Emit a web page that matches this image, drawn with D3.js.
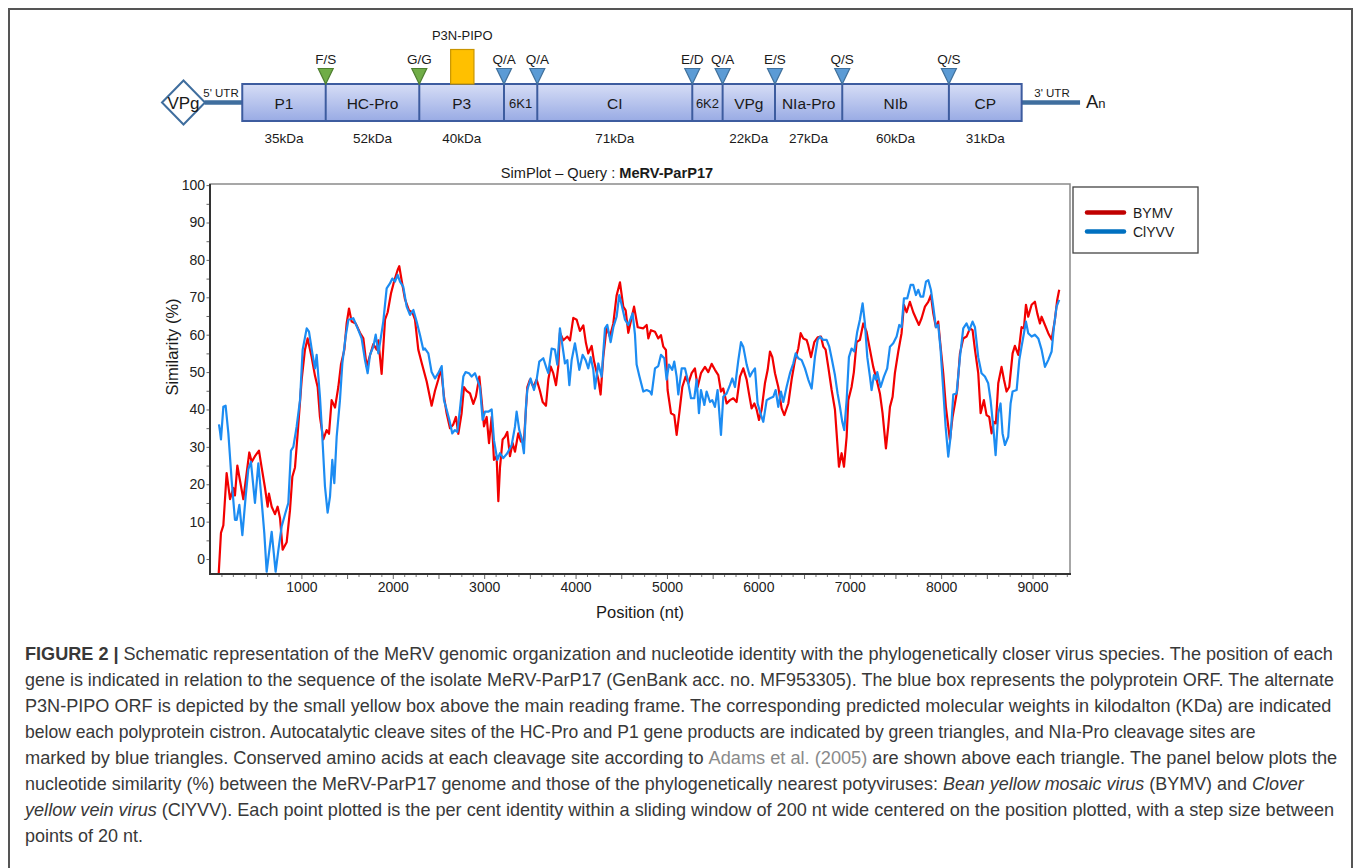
<!DOCTYPE html>
<meta charset="utf-8">
<html>
<head>
<script src="https://d3js.org/d3.v7.min.js"></script>
<style>
  body { margin: 0; background: #fff; }
  svg text { font-family: "Liberation Sans", Arial, sans-serif; }
</style>
</head>
<body>
<div id="chart"></div>
<script>

// ---- genome map ----
const genes    = ["P1", "HC-Pro", "P3", "6K1", "CI", "6K2", "VPg", "NIa-Pro", "NIb", "CP"];
const geneStart = [353, 1266, 2290, 3217, 3581, 5277, 5609, 6182, 6918, 8085];
const polyEnd   = 8881;
const geneKDa  = ["35kDa", "52kDa", "40kDa", "", "71kDa", "", "22kDa", "27kDa", "60kDa", "31kDa"];
const siteLabels = ["F/S", "G/G", "Q/A", "Q/A", "E/D", "Q/A", "E/S", "Q/S", "Q/S"];
const siteKind   = ["auto", "auto", "nia", "nia", "nia", "nia", "nia", "nia", "nia"];
const pipo = [2633, 2888];
const utr3End = 9520;

// ---- simplot series: [position (nt), similarity (%)] ----
const bymv = [
  [95,-4],[120,7],[146,9],[182,23],[219,16],[255,19],[273,17],[299,25],[328,21],[365,16],
  [401,23],[430,28.5],[456,26],[492,27.5],[536,29],[565,24.5],[602,19],[631,14],[645,17.5],[675,14],
  [711,12],[740,14],[766,11],[795,2.5],[839,4.5],[875,13],[901,22],[930,24.5],[959,33.5],[1003,48],
  [1039,56],[1068,59],[1112,54],[1149,49],[1178,46],[1203,38],[1240,32],[1276,34.5],[1302,33.5],[1331,42.5],
  [1368,40.5],[1404,46],[1433,52],[1470,56],[1495,63],[1521,67],[1550,63.5],[1594,63],[1641,60.5],[1678,59],
  [1714,51.5],[1751,54.5],[1787,57.5],[1824,56],[1842,58.5],[1878,49.5],[1915,64],[1944,66],[1980,71],[2017,74.5],
  [2053,77.3],[2071,78.3],[2097,74.5],[2133,69.5],[2177,66.5],[2214,66],[2243,64],[2279,56],[2316,52.5],[2371,47.5],
  [2425,41],[2462,45],[2498,48],[2527,51],[2560,43.5],[2589,39],[2626,35],[2662,36],[2691,38],[2717,33.5],
  [2753,39],[2779,46],[2808,45],[2845,44.3],[2881,41.5],[2910,43.5],[2947,48.8],[2972,42.5],[2998,35.5],[3027,38],
  [3053,31],[3082,38],[3107,26.5],[3136,27.5],[3155,15.5],[3173,24.5],[3202,32],[3228,32.7],[3253,34],[3282,27.5],
  [3311,31],[3337,28.7],[3373,33.6],[3403,31.4],[3435,31.4],[3472,46],[3501,48],[3538,46],[3574,48],[3610,45],
  [3640,42],[3676,41],[3702,48],[3727,51.5],[3756,49.7],[3786,46.5],[3811,51.5],[3829,60.5],[3866,58.5],[3910,59.5],
  [3939,58.5],[3975,64.5],[4012,64],[4048,61],[4085,62.5],[4114,57.7],[4139,55],[4176,57],[4201,53],[4249,48],
  [4274,44],[4303,54],[4340,62],[4376,59.5],[4413,63],[4449,70.5],[4486,74],[4522,67.5],[4548,66.5],[4577,60.5],
  [4640,67.5],[4680,62],[4741,61.7],[4778,62.6],[4796,59],[4825,61.2],[4869,60.8],[4905,59],[4934,59.9],[4960,56.8],
  [4989,55.9],[5007,45.2],[5044,39],[5080,38.5],[5106,33.2],[5135,39],[5168,46],[5204,48.8],[5234,47],[5270,49.7],
  [5306,51],[5336,46],[5372,49.7],[5416,51.4],[5452,50],[5489,52.2],[5525,50.6],[5562,49.2],[5591,44.8],[5616,45.6],
  [5653,41.6],[5689,42.5],[5726,43],[5762,42],[5799,48.8],[5835,51],[5872,48],[5897,44.3],[5926,40.3],[5956,41.6],
  [5981,40],[6007,37.2],[6036,40],[6072,47],[6102,50.6],[6127,55.5],[6153,54],[6182,49.7],[6218,46],[6255,40.3],
  [6284,38.5],[6328,41.6],[6364,48],[6401,53.2],[6437,56.3],[6463,60.4],[6492,59],[6528,58.6],[6546,57.2],[6576,54],
  [6612,58],[6649,59.3],[6685,59.5],[6711,56.8],[6736,56],[6765,51.4],[6802,45.2],[6838,40],[6864,31],[6882,24.7],
  [6911,28.3],[6937,24.7],[6966,32.7],[6984,42.5],[7020,46],[7045,50],[7075,58],[7111,58.6],[7148,63],[7184,60.8],
  [7221,56],[7257,51.4],[7294,48],[7330,44.3],[7359,39],[7396,29.6],[7421,35.4],[7440,40.7],[7469,43.4],[7494,49.7],
  [7531,55.5],[7567,60.4],[7593,68],[7622,66],[7658,68.8],[7695,66],[7731,64],[7757,62.6],[7786,64.4],[7823,67.5],
  [7859,68.8],[7888,70.6],[7914,65.7],[7943,62],[7968,63.5],[7994,56.8],[8023,49.7],[8052,40.7],[8078,35.4],[8096,31.8],
  [8125,38],[8151,41.6],[8176,45.2],[8206,55],[8242,59],[8278,59.5],[8315,61.7],[8344,61.2],[8370,56],[8406,49.7],
  [8432,39],[8468,42.5],[8497,38.5],[8526,38],[8552,33.6],[8577,36.7],[8599,36.3],[8625,47],[8661,51.4],[8687,48],
  [8716,44.8],[8745,46],[8782,55],[8807,57],[8844,54.6],[8880,62],[8906,61.7],[8928,68],[8953,64.8],[8990,68],
  [9026,68.8],[9052,65.7],[9081,63],[9099,64.8],[9136,62.6],[9172,60.4],[9209,58.7],[9245,64],[9270,69.3],[9292,72]
];

const clyvv = [
  [98,36],[110,34],[120,32],[146,40.7],[171,41],[201,33.6],[237,21],[273,10.5],[292,10.5],[321,14.5],
  [354,6.4],[390,16.7],[419,24],[448,26],[492,15],[529,25.6],[558,17.6],[594,7],[620,-3.4],[645,1.5],
  [675,7.3],[718,-3.4],[748,2.4],[784,8.7],[821,12],[857,15],[886,29],[912,30],[948,35.4],[985,42.5],
  [1014,56],[1058,61.7],[1083,60.8],[1120,55],[1149,51],[1167,54.6],[1203,43.4],[1229,32.7],[1258,19.4],[1287,12.4],
  [1313,16.7],[1338,26.5],[1360,20.3],[1386,32.7],[1422,42.5],[1448,52.3],[1484,59.5],[1514,64],[1568,64.4],[1616,61.7],
  [1659,59],[1696,53.2],[1725,49.7],[1751,54.6],[1787,56.8],[1813,60],[1842,55],[1871,59.5],[1896,63.5],[1933,72.4],
  [1969,73.7],[1995,75],[2024,74.2],[2053,76],[2079,74.2],[2115,72.8],[2152,67.5],[2188,65.3],[2225,66.6],[2261,63.5],
  [2297,60],[2334,56],[2352,56.3],[2389,55],[2425,50],[2462,48.3],[2498,49.7],[2535,51.6],[2560,42.5],[2589,40],
  [2619,37.2],[2651,33.6],[2680,34.5],[2706,34],[2735,40],[2772,48.8],[2797,50],[2834,49.7],[2863,48.8],[2899,49.7],
  [2925,48],[2954,46],[2983,37.2],[3009,39.4],[3045,39.4],[3082,40],[3107,31.8],[3144,26.5],[3173,28.3],[3209,27],
  [3253,28.3],[3301,30.5],[3337,35.4],[3355,39.4],[3384,34.5],[3410,32.3],[3435,28.3],[3457,40.7],[3472,45.2],[3508,48.3],
  [3545,45.2],[3574,48],[3603,52.8],[3647,53.7],[3683,51],[3702,49.7],[3738,56.3],[3774,56],[3800,52],[3829,61.7],
  [3858,56.8],[3884,52.3],[3910,53.2],[3932,46.5],[3957,53.2],[3993,57.7],[4019,54],[4041,50.6],[4077,54.6],[4110,53.2],
  [4139,51],[4165,54],[4194,50.6],[4212,45.6],[4249,52.3],[4285,48.8],[4322,61.7],[4347,62.6],[4384,58],[4413,62],
  [4449,64.8],[4478,70.6],[4504,68],[4541,64],[4577,62.6],[4624,65.7],[4650,60],[4668,52],[4697,49],[4741,44.8],
  [4778,45.2],[4814,44.8],[4832,44],[4869,51],[4905,51.6],[4934,54.6],[4971,53.7],[4996,48],[5022,52],[5058,50.6],
  [5080,52.8],[5106,48.8],[5124,44],[5161,51],[5197,51],[5226,48],[5263,43],[5299,43],[5325,48],[5350,39],
  [5372,45.2],[5409,41.2],[5434,44.8],[5471,42],[5496,42.5],[5525,40.7],[5554,45.2],[5591,33.2],[5616,43.4],[5653,44.3],
  [5689,46.5],[5715,48.3],[5744,46],[5781,53.2],[5810,58],[5835,56.8],[5872,52],[5908,48.8],[5934,50],[5963,51],
  [5992,41.6],[6029,38.5],[6054,36.7],[6091,42.5],[6127,43],[6164,43.4],[6189,45.2],[6218,40.7],[6247,44.8],[6273,42],
  [6309,46],[6346,49.7],[6382,52.3],[6408,55],[6437,53.7],[6474,53.2],[6510,51],[6546,48],[6583,45.6],[6619,54],
  [6649,58.6],[6674,59.5],[6711,58.6],[6747,58.6],[6776,56.8],[6802,53.7],[6838,49.2],[6867,44.3],[6893,40.7],[6918,36.7],
  [6940,34.5],[6966,42.5],[6991,54],[7020,56.3],[7050,55.5],[7082,60.8],[7111,64],[7141,68.4],[7166,63],[7192,54],
  [7221,48.8],[7239,45.2],[7265,49.2],[7286,48],[7301,50],[7338,46],[7374,48.8],[7410,51],[7440,56.8],[7476,57.7],
  [7513,59.5],[7542,62.6],[7567,62],[7593,69.7],[7629,69.7],[7666,73.3],[7695,73.3],[7724,70.6],[7750,72],[7775,70.2],
  [7804,70.2],[7834,74.2],[7859,74.6],[7888,72],[7914,67.5],[7943,62],[7968,62.6],[7994,56],[8023,45.2],[8049,35.4],
  [8078,27.4],[8103,32.7],[8133,44],[8169,44.3],[8206,54],[8242,61.7],[8278,63],[8308,61.2],[8344,63.5],[8370,62],
  [8406,54],[8442,49.7],[8479,48.8],[8515,47],[8541,42.5],[8570,35.4],[8596,27.8],[8625,39],[8650,41.6],[8672,33.6],
  [8698,30.5],[8734,32.7],[8760,41.6],[8782,44.8],[8826,45.2],[8855,53.2],[8880,56.8],[8906,60.4],[8928,63.5],[8953,60.4],
  [8990,59.5],[9026,60],[9063,59],[9099,56],[9136,51.4],[9172,53.2],[9209,55.5],[9234,62],[9263,67.5],[9292,69.3]
];

const seriesNames = ["BYMV", "ClYVV"];
const xTicks = [1000, 2000, 3000, 4000, 5000, 6000, 7000, 8000, 9000];
const yTicks = [0, 10, 20, 30, 40, 50, 60, 70, 80, 90, 100];

const captionLines = [
  [["b", "FIGURE 2 |"], ["", " Schematic representation of the MeRV genomic organization and nucleotide identity with the phylogenetically closer virus species. The position of each"]],
  [["", "gene is indicated in relation to the sequence of the isolate MeRV-ParP17 (GenBank acc. no. MF953305). The blue box represents the polyprotein ORF. The alternate"]],
  [["", "P3N-PIPO ORF is depicted by the small yellow box above the main reading frame. The corresponding predicted molecular weights in kilodalton (KDa) are indicated"]],
  [["", "below each polyprotein cistron. Autocatalytic cleave sites of the HC-Pro and P1 gene products are indicated by green triangles, and NIa-Pro cleavage sites are"]],
  [["", "marked by blue triangles. Conserved amino acids at each cleavage site according to "], ["g", "Adams et al. (2005)"], ["", " are shown above each triangle. The panel below plots the"]],
  [["", "nucleotide similarity (%) between the MeRV-ParP17 genome and those of the phylogenetically nearest potyviruses: "], ["i", "Bean yellow mosaic virus"], ["", " (BYMV) and "], ["i", "Clover"]],
  [["i", "yellow vein virus"], ["", " (ClYVV). Each point plotted is the per cent identity within a sliding window of 200 nt wide centered on the position plotted, with a step size between"]],
  [["", "points of 20 nt."]]
];
// right edge of each caption line in the figure (last line takes the average squeeze)
const captionRight = [1333, 1335, 1331, 1257, 1337, 1304, 1335, null];

const W = 1358, H = 868;
const svg = d3.select("#chart").append("svg")
  .attr("width", W).attr("height", H);

// outer figure frame
svg.append("rect")
  .attr("x", 9).attr("y", 9).attr("width", 1343).attr("height", 880)
  .attr("fill", "none").attr("stroke", "#555").attr("stroke-width", 2);

// scales
const x = d3.scaleLinear().domain([0, 9410]).range([210, 1070]);
const y = d3.scaleLinear().domain([-4, 100.3]).range([574, 184]);

// ================= genome schematic =================
const defs = svg.append("defs");
const grad = defs.append("linearGradient").attr("id", "boxGrad")
  .attr("x1", 0).attr("y1", 0).attr("x2", 0).attr("y2", 1);
grad.append("stop").attr("offset", "0%").attr("stop-color", "#d6ddf6");
grad.append("stop").attr("offset", "100%").attr("stop-color", "#99abe4");

const map = svg.append("g");
const boxTop = 84, boxBot = 121, midY = 102.5;
const lineCol = "#3f6e9e", boxStroke = "#3d5c9f";

// 5' and 3' UTR lines
const vpgCx = x(0) - 26.5;
map.append("line")
  .attr("x1", vpgCx + 21).attr("x2", x(geneStart[0]))
  .attr("y1", midY).attr("y2", midY)
  .attr("stroke", lineCol).attr("stroke-width", 4.5);
map.append("line")
  .attr("x1", x(polyEnd)).attr("x2", x(utr3End))
  .attr("y1", midY).attr("y2", midY)
  .attr("stroke", lineCol).attr("stroke-width", 4.5);

// VPg diamond
map.append("path")
  .attr("d", `M${vpgCx - 21.5},${midY} L${vpgCx},${midY - 22} L${vpgCx + 21.5},${midY} L${vpgCx},${midY + 22} Z`)
  .attr("fill", "#fff").attr("stroke", lineCol).attr("stroke-width", 2);
map.append("text").attr("x", vpgCx).attr("y", midY + 6.5)
  .attr("text-anchor", "middle").attr("font-size", 17).attr("fill", "#1a1a1a").text("VPg");

map.append("text").attr("x", 221).attr("y", 97)
  .attr("text-anchor", "middle").attr("font-size", 11.5).attr("fill", "#1a1a1a").text("5' UTR");
map.append("text").attr("x", 1052).attr("y", 97)
  .attr("text-anchor", "middle").attr("font-size", 11.5).attr("fill", "#1a1a1a").text("3' UTR");

const an = map.append("text").attr("x", 1086).attr("y", 108).attr("fill", "#1a1a1a");
an.append("tspan").attr("font-size", 18.5).text("A");
an.append("tspan").attr("font-size", 13).text("n");

// polyprotein box
map.append("rect")
  .attr("x", x(geneStart[0])).attr("y", boxTop)
  .attr("width", x(polyEnd) - x(geneStart[0])).attr("height", boxBot - boxTop)
  .attr("fill", "url(#boxGrad)").attr("stroke", boxStroke).attr("stroke-width", 2);

// cistron dividers
map.selectAll(".div").data(geneStart.slice(1)).join("line")
  .attr("x1", d => x(d)).attr("x2", d => x(d))
  .attr("y1", boxTop).attr("y2", boxBot)
  .attr("stroke", boxStroke).attr("stroke-width", 2);

// gene names and weights
const geneEnds = geneStart.slice(1).concat([polyEnd]);
map.selectAll(".gname").data(genes).join("text")
  .attr("x", (d, i) => (x(geneStart[i]) + x(geneEnds[i])) / 2)
  .attr("y", (d, i) => d.startsWith("6K") ? 108 : 108.5)
  .attr("text-anchor", "middle")
  .attr("font-size", d => d.startsWith("6K") ? 13 : 15.5)
  .attr("fill", "#1a1a1a")
  .text(d => d);
map.selectAll(".kda").data(geneKDa).join("text")
  .attr("x", (d, i) => (x(geneStart[i]) + x(geneEnds[i])) / 2)
  .attr("y", 143)
  .attr("text-anchor", "middle").attr("font-size", 13.5).attr("fill", "#1a1a1a")
  .text(d => d);

// cleavage triangles
const sitePos = geneStart.slice(1);
map.selectAll(".tri").data(sitePos).join("path")
  .attr("d", d => `M${x(d) - 7.5},68.5 L${x(d) + 7.5},68.5 L${x(d)},84 Z`)
  .attr("fill", (d, i) => siteKind[i] === "auto" ? "#70ad47" : "#5b9bd5")
  .attr("stroke", (d, i) => siteKind[i] === "auto" ? "#4f7f30" : "#41719c")
  .attr("stroke-width", 1.2);
map.selectAll(".site").data(siteLabels).join("text")
  .attr("x", (d, i) => x(sitePos[i]))
  .attr("y", 64)
  .attr("text-anchor", "middle").attr("font-size", 13.5).attr("fill", "#1a1a1a")
  .text(d => d);

// P3N-PIPO
map.append("rect")
  .attr("x", x(pipo[0])).attr("y", 49.5)
  .attr("width", x(pipo[1]) - x(pipo[0])).attr("height", 84 - 49.5)
  .attr("fill", "#ffc000").attr("stroke", "#c99500").attr("stroke-width", 1.2);
map.append("text").attr("x", (x(pipo[0]) + x(pipo[1])) / 2).attr("y", 39.5)
  .attr("text-anchor", "middle").attr("font-size", 13).attr("fill", "#1a1a1a").text("P3N-PIPO");

// ================= SimPlot =================
const plot = svg.append("g");

// frame (top/right grey)
plot.append("rect")
  .attr("x", 210).attr("y", 184).attr("width", 860).attr("height", 390)
  .attr("fill", "none").attr("stroke", "#8a8a8a").attr("stroke-width", 1.5);

defs.append("clipPath").attr("id", "clip").append("rect")
  .attr("x", 210).attr("y", 184).attr("width", 860).attr("height", 390);

const line = d3.line().x(d => x(d[0])).y(d => y(d[1])).curve(d3.curveLinear);
const lines = plot.append("g").attr("clip-path", "url(#clip)");
lines.append("path").datum(bymv).attr("d", line)
  .attr("fill", "none").attr("stroke", "#f20000").attr("stroke-width", 2.2)
  .attr("stroke-linejoin", "round");
lines.append("path").datum(clyvv).attr("d", line)
  .attr("fill", "none").attr("stroke", "#1c8cf2").attr("stroke-width", 2.2)
  .attr("stroke-linejoin", "round");

// y axis
const yMinor = plot.append("g").attr("transform", "translate(210,0)")
  .call(d3.axisLeft(y).tickValues(d3.range(0, 101, 5)).tickSize(3.5).tickFormat(""));
yMinor.select(".domain").remove();
yMinor.selectAll("line").attr("stroke", "#666");
const yAx = plot.append("g").attr("transform", "translate(210,0)")
  .call(d3.axisLeft(y).tickValues(yTicks).tickSize(0).tickPadding(5));
yAx.select(".domain").remove();
yAx.selectAll("text").attr("font-size", 14).attr("fill", "#222")
  .attr("font-family", "'Liberation Sans', Arial, sans-serif");

// x axis
const xMinor = plot.append("g").attr("transform", "translate(0,574)")
  .call(d3.axisBottom(x).tickValues(d3.range(125, 9400, 125).filter(d => d % 500 !== 0)).tickSize(3).tickFormat(""));
xMinor.select(".domain").remove();
xMinor.selectAll("line").attr("stroke", "#777");
const xMid = plot.append("g").attr("transform", "translate(0,574)")
  .call(d3.axisBottom(x).tickValues(d3.range(500, 9400, 1000)).tickSize(5).tickFormat(""));
xMid.select(".domain").remove();
xMid.selectAll("line").attr("stroke", "#666");
const xAx = plot.append("g").attr("transform", "translate(0,574)")
  .call(d3.axisBottom(x).tickValues(xTicks).tickSize(5).tickPadding(3.5).tickFormat(d3.format("d")));
xAx.select(".domain").remove();
xAx.selectAll("line").attr("stroke", "#666");
xAx.selectAll("text").attr("font-size", 14).attr("fill", "#222")
  .attr("font-family", "'Liberation Sans', Arial, sans-serif");

// dark left and bottom axis lines
plot.append("line").attr("x1", 210).attr("x2", 210).attr("y1", 184).attr("y2", 575)
  .attr("stroke", "#333").attr("stroke-width", 2);
plot.append("line").attr("x1", 209).attr("x2", 1071).attr("y1", 574).attr("y2", 574)
  .attr("stroke", "#333").attr("stroke-width", 2);

// titles
const title = plot.append("text").attr("x", 607).attr("y", 178)
  .attr("text-anchor", "middle").attr("font-size", 14.6).attr("fill", "#1a1a1a");
title.append("tspan").text("SimPlot \u2013 Query : ");
title.append("tspan").attr("font-weight", "bold").text("MeRV-ParP17");

plot.append("text").attr("x", 640).attr("y", 618)
  .attr("text-anchor", "middle").attr("font-size", 16.5).attr("fill", "#1a1a1a")
  .text("Position (nt)");
plot.append("text")
  .attr("transform", "translate(178,347) rotate(-90)")
  .attr("text-anchor", "middle").attr("font-size", 16.5).attr("fill", "#1a1a1a")
  .text("Similarity (%)");

// legend
const leg = svg.append("g");
leg.append("rect").attr("x", 1073).attr("y", 187).attr("width", 125).attr("height", 66)
  .attr("fill", "#fff").attr("stroke", "#444").attr("stroke-width", 1.3);
const legCols = ["#c00000", "#0070c0"];
seriesNames.forEach((name, i) => {
  const ly = 212.5 + i * 19;
  leg.append("line").attr("x1", 1087).attr("x2", 1124).attr("y1", ly).attr("y2", ly)
    .attr("stroke", legCols[i]).attr("stroke-width", 4.5).attr("stroke-linecap", "round");
  leg.append("text").attr("x", 1133).attr("y", ly + 5).attr("font-size", 14)
    .attr("fill", "#1a1a1a").text(name);
});

// ================= caption =================
const cap = svg.append("g");
const squeezes = [];
captionLines.forEach((parts, i) => {
  const t = cap.append("text")
    .attr("font-size", 17.5).attr("fill", "#383838")
    .attr("font-family", "'Liberation Sans Narrow', 'Liberation Sans', Arial, sans-serif");
  parts.forEach(p => {
    const s = t.append("tspan").text(p[1]);
    if (p[0] === "b") s.attr("font-weight", "bold");
    if (p[0] === "i") s.attr("font-style", "italic");
    if (p[0] === "g") s.attr("fill", "#8a8a8a");
  });
  const w = t.node().getComputedTextLength();
  let sx;
  if (captionRight[i] !== null) {
    sx = (captionRight[i] - 25) / w;
    squeezes.push(sx);
  } else {
    sx = d3.mean(squeezes);
  }
  t.attr("transform", `translate(25,${660 + i * 26}) scale(${sx},1)`);
});

</script>
</body>
</html>
